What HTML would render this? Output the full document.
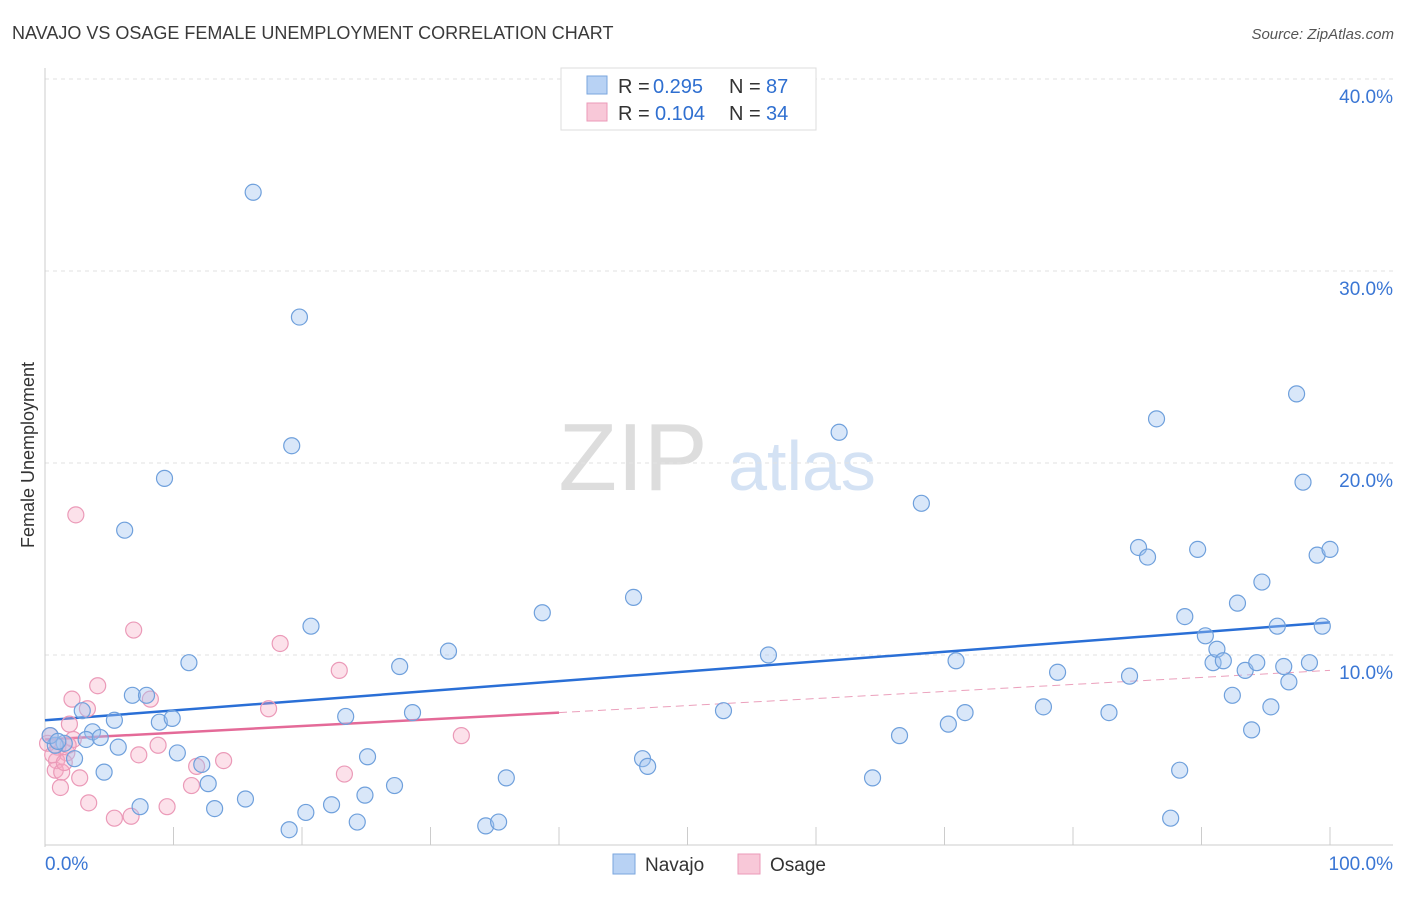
<!DOCTYPE html>
<html><head><meta charset="utf-8"><style>
body{margin:0;background:#fff;font-family:"Liberation Sans",sans-serif}
svg text{font-family:"Liberation Sans",sans-serif}
</style></head><body>
<svg id="chart" width="1406" height="892">
<text x="12" y="39" font-size="18" fill="#3a3a3a">NAVAJO VS OSAGE FEMALE UNEMPLOYMENT CORRELATION CHART</text>
<text x="1394" y="39" font-size="15" fill="#555" font-style="italic" text-anchor="end">Source: ZipAtlas.com</text>
<text x="34" y="455" font-size="18" fill="#333" text-anchor="middle" transform="rotate(-90 34 455)">Female Unemployment</text>
<g><text x="633" y="490" font-size="96" fill="#ddd" font-family="Liberation Serif" text-anchor="middle">ZIP</text><text x="802" y="490" font-size="70" fill="#d4e2f4" text-anchor="middle">atlas</text></g>
<g id="grid"></g><g id="axes"></g><g id="lines"></g><g id="pts"></g>
<g>
<rect x="561" y="68" width="255" height="62" fill="#fff" stroke="#ddd"/>
<rect x="587" y="76" width="20" height="18" fill="#b8d2f4" stroke="#7aa6de"/>
<rect x="587" y="103" width="20" height="18" fill="#f8c8d8" stroke="#eb9ab8"/>
<text x="618" y="93" font-size="20" fill="#333">R =</text><text x="653" y="93" font-size="20" fill="#2f6fd0">0.295</text>
<text x="729" y="93" font-size="20" fill="#333">N =</text><text x="766" y="93" font-size="20" fill="#2f6fd0">87</text>
<text x="618" y="120" font-size="20" fill="#333">R =</text><text x="655" y="120" font-size="20" fill="#2f6fd0">0.104</text>
<text x="729" y="120" font-size="20" fill="#333">N =</text><text x="766" y="120" font-size="20" fill="#2f6fd0">34</text>
</g>
<g>
<rect x="613" y="854" width="22" height="20" fill="#b8d2f4" stroke="#7aa6de"/><text x="645" y="871" font-size="19" fill="#333">Navajo</text>
<rect x="738" y="854" width="22" height="20" fill="#f8c8d8" stroke="#eb9ab8"/><text x="770" y="871" font-size="19" fill="#333">Osage</text>
</g>
</svg>
<script>
const yTicks=[10,20,30,40];
const yTickLabels=["10.0%","20.0%","30.0%","40.0%"];
const xTickLabels=["0.0%","100.0%"];
const navajoX=[16.2,19.8,19.2,9.3,6.2,20.7,11.2,6.8,7.9,5.4,8.9,9.9,2.9,3.7,3.2,4.3,5.7,10.3,2.3,1.5,0.8,0.4,1.0,4.6,12.2,12.7,7.4,13.2,15.6,19.0,20.3,22.3,24.3,24.9,25.1,27.2,23.4,27.6,28.6,31.4,34.3,35.3,35.9,38.7,45.8,46.5,46.9,52.8,56.3,61.8,64.4,66.5,68.2,70.3,70.9,71.6,77.7,78.8,82.8,84.4,85.1,85.8,86.5,87.6,88.3,88.7,89.7,90.3,90.9,91.2,91.7,92.4,92.8,93.4,93.9,94.3,94.7,95.4,95.9,96.4,96.8,97.4,97.9,98.4,99.0,99.4,100];
const navajoY=[34.1,27.6,20.9,19.2,16.5,11.5,9.6,7.9,7.9,6.6,6.5,6.7,7.1,6.0,5.6,5.7,5.2,4.9,4.6,5.4,5.3,5.8,5.5,3.9,4.3,3.3,2.1,2.0,2.5,0.9,1.8,2.2,1.3,2.7,4.7,3.2,6.8,9.4,7.0,10.2,1.1,1.3,3.6,12.2,13.0,4.6,4.2,7.1,10.0,21.6,3.6,5.8,17.9,6.4,9.7,7.0,7.3,9.1,7.0,8.9,15.6,15.1,22.3,1.5,4.0,12.0,15.5,11.0,9.6,10.3,9.7,7.9,12.7,9.2,6.1,9.6,13.8,7.3,11.5,9.4,8.6,23.6,19.0,9.6,15.2,11.5,15.5];
const osageX=[2.4,6.9,18.3,22.9,4.1,2.1,8.2,3.3,17.4,1.9,32.4,2.2,8.8,0.4,1.0,1.7,7.3,13.9,11.8,0.9,0.8,1.3,2.7,23.3,11.4,1.2,3.4,9.5,6.7,5.4,0.2,0.6,1.5,1.8];
const osageY=[17.3,11.3,10.6,9.2,8.4,7.7,7.7,7.2,7.2,6.4,5.8,5.6,5.3,5.8,5.2,4.9,4.8,4.5,4.2,4.5,4.0,3.9,3.6,3.8,3.2,3.1,2.3,2.1,1.6,1.5,5.4,4.8,4.4,5.3];
const navajoTrend=[6.6,11.7];
const osageTrend=[5.6,7.0,9.2];
const NS="http://www.w3.org/2000/svg";
const X=v=>45+v*12.85, Y=v=>847-v*19.2;
function mk(tag,attrs,parent){const e=document.createElementNS(NS,tag);for(const k in attrs)e.setAttribute(k,attrs[k]);document.getElementById(parent).appendChild(e);return e;}
yTicks.forEach((t,i)=>{
 const g=mk('line',{x1:45,x2:1393,y1:Y(t),y2:Y(t),stroke:'#e2e2e2','stroke-dasharray':'4,4'},'grid');
 
 
 const l=mk('text',{x:1393,y:Y(t)+24,'font-size':19,fill:'#3a76d4','text-anchor':'end'},'axes');
 l.textContent=yTickLabels[i];
 
 
});
mk('line',{x1:45,x2:45,y1:68,y2:847,stroke:'#ccc'},'axes');
mk('line',{x1:45,x2:1393,y1:845,y2:845,stroke:'#ccc'},'axes');
for(let i=1;i<=10;i++){mk('line',{x1:X(i*10),x2:X(i*10),y1:827,y2:845,stroke:'#ccc'},'axes');}
const xl0=mk('text',{x:45,y:870,'font-size':19,fill:'#3a76d4'},'axes');xl0.textContent=xTickLabels[0];


const xl1=mk('text',{x:1393,y:870,'font-size':19,fill:'#3a76d4','text-anchor':'end'},'axes');xl1.textContent=xTickLabels[1];


osageX.forEach((x,i)=>{const c=mk('circle',{cx:X(x),cy:Y(osageY[i]),r:8,fill:'rgba(245,170,195,0.35)',stroke:'#eb9ab8','stroke-width':1.2},'pts');
 
 });
navajoX.forEach((x,i)=>{const c=mk('circle',{cx:X(x),cy:Y(navajoY[i]),r:8,fill:'rgba(160,196,240,0.4)',stroke:'#6fa0dc','stroke-width':1.2},'pts');
 
 });
const bl=mk('line',{x1:X(0),y1:Y(navajoTrend[0]),x2:X(100),y2:Y(navajoTrend[1]),stroke:'#2a6fd6','stroke-width':2.5},'lines');


const pl=mk('line',{x1:X(0),y1:Y(osageTrend[0]),x2:X(40),y2:Y(osageTrend[1]),stroke:'#e46a98','stroke-width':2.5},'lines');


const pd=mk('line',{x1:X(40),y1:Y(osageTrend[1]),x2:X(100),y2:Y(osageTrend[2]),stroke:'#eba0bc','stroke-width':1,'stroke-dasharray':'8,5'},'lines');


</script>
</body></html>
